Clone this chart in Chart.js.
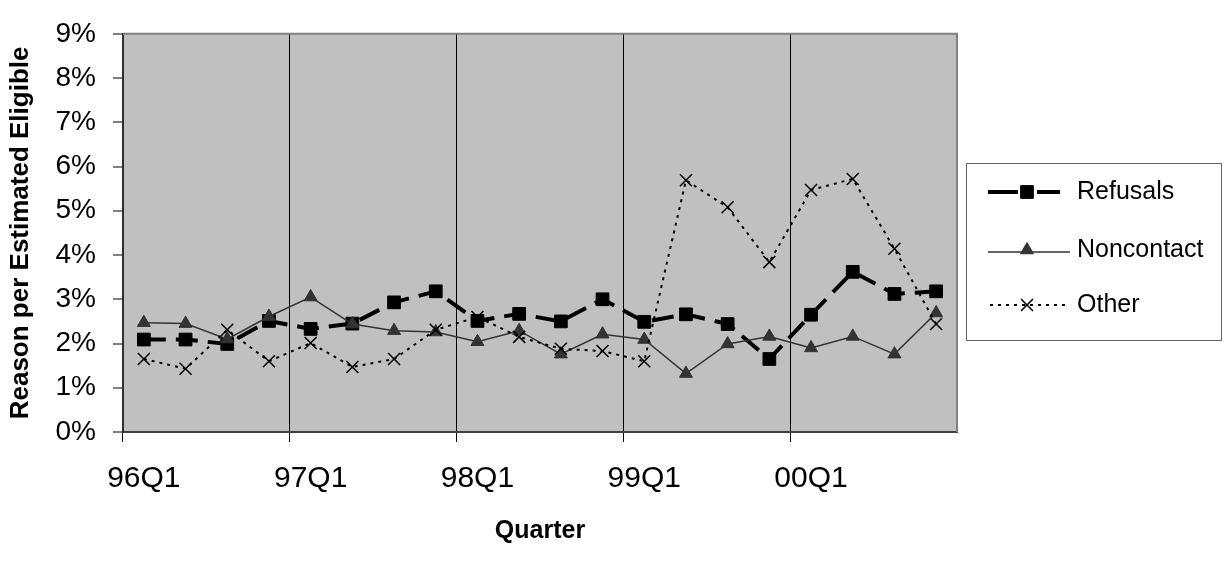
<!DOCTYPE html>
<html><head><meta charset="utf-8">
<script src="https://cdn.jsdelivr.net/npm/chart.js@4.4.0/dist/chart.umd.min.js"></script>
<style>html,body{margin:0;padding:0;background:#fff;}#wrap{width:1225px;height:565px;}</style>
</head><body><div id="wrap"><canvas id="c" width="1225" height="565"></canvas></div>
<script>
const quarters = ['96Q1','96Q2','96Q3','96Q4','97Q1','97Q2','97Q3','97Q4','98Q1','98Q2','98Q3','98Q4','99Q1','99Q2','99Q3','99Q4','00Q1','00Q2','00Q3','00Q4'];
const tickLabels = ['96Q1','97Q1','98Q1','99Q1','00Q1'];
const seriesNames = ['Refusals','Noncontact','Other'];
const refusals   = [2.09,2.09,1.99,2.51,2.33,2.45,2.93,3.18,2.51,2.67,2.50,3.00,2.49,2.66,2.44,1.65,2.65,3.62,3.12,3.18];
const noncontact = [2.47,2.45,2.10,2.61,3.05,2.44,2.29,2.26,2.04,2.29,1.76,2.21,2.09,1.32,1.99,2.16,1.90,2.16,1.76,2.69];
const other      = [1.65,1.43,2.31,1.60,2.01,1.47,1.65,2.31,2.60,2.15,1.88,1.83,1.60,5.69,5.08,3.84,5.47,5.72,4.14,2.44];
const xTitle = 'Quarter';
const yTitle = 'Reason per Estimated Eligible';

const FONT = "'Liberation Sans', Arial, sans-serif";

const bgPlugin = {
  id: 'bg',
  beforeDraw(chart) {
    const {ctx, chartArea: a} = chart;
    ctx.save();
    ctx.fillStyle = '#C0C0C0';
    ctx.fillRect(a.left, a.top, a.right - a.left, a.bottom - a.top);
    ctx.restore();
  },
  afterDraw(chart) {
    const {ctx, chartArea: a} = chart;
    ctx.save();
    ctx.strokeStyle = '#808080';
    ctx.lineWidth = 2;
    ctx.beginPath();
    ctx.moveTo(a.left, a.top);
    ctx.lineTo(a.right, a.top);
    ctx.lineTo(a.right, a.bottom);
    ctx.stroke();
    // legend
    const bx = 966.5, by = 163.5, bw = 255, bh = 177;
    ctx.strokeStyle = '#666666';
    ctx.lineWidth = 1;
    ctx.strokeRect(bx, by, bw, bh);
    const rows = [192, 250, 305];
    const ds = chart.data.datasets;
    ctx.font = '25px ' + FONT;
    ctx.textBaseline = 'middle';
    ctx.textAlign = 'left';
    ds.forEach((d, i) => {
      const y = rows[i];
      ctx.strokeStyle = d.borderColor;
      ctx.lineWidth = d.borderWidth;
      ctx.setLineDash(i === 2 ? [3, 5] : []);
      ctx.beginPath();
      if (i === 0) {
        ctx.moveTo(988, y); ctx.lineTo(1018, y);
        ctx.moveTo(1037, y); ctx.lineTo(1060, y);
      } else if (i === 1) {
        ctx.moveTo(988, y + 2); ctx.lineTo(1070, y + 2);
      } else {
        ctx.moveTo(990, y); ctx.lineTo(1067, y);
      }
      ctx.stroke();
      ctx.setLineDash([]);
      ctx.fillStyle = d.pointBackgroundColor;
      ctx.strokeStyle = d.pointBorderColor;
      ctx.lineWidth = d.pointBorderWidth;
      Chart.helpers.drawPoint(ctx, {pointStyle: d.pointStyle, radius: d.pointRadius, rotation: 0, borderWidth: d.pointBorderWidth}, 1027, y);
      ctx.fillStyle = '#000';
      ctx.fillText(d.label, 1077, y);
    });
    ctx.restore();
  }
};

new Chart(document.getElementById('c'), {
  type: 'line',
  data: {
    labels: quarters,
    datasets: [
      {label: seriesNames[0], data: refusals, order: 3, borderColor: '#000000', borderWidth: 4, borderDash: [22, 10],
       pointStyle: 'rect', pointRadius: 9, pointBackgroundColor: '#000000', pointBorderColor: '#000000', pointBorderWidth: 1, tension: 0},
      {label: seriesNames[1], data: noncontact, order: 2, borderColor: '#333333', borderWidth: 1.5,
       pointStyle: 'triangle', pointRadius: 7.5, pointBackgroundColor: '#333333', pointBorderColor: '#333333', pointBorderWidth: 1, tension: 0},
      {label: seriesNames[2], data: other, order: 1, borderColor: '#000000', borderWidth: 2, borderDash: [3, 5],
       pointStyle: 'crossRot', pointRadius: 8.5, pointBackgroundColor: '#000000', pointBorderColor: '#000000', pointBorderWidth: 1.5, tension: 0}
    ]
  },
  options: {
    responsive: false,
    animation: false,
    devicePixelRatio: 1,
    layout: {padding: {top: 21, right: 268, left: 0, bottom: 0}},
    plugins: {legend: {display: false}, tooltip: {enabled: false}},
    scales: {
      x: {
        type: 'category',
        offset: true,
        afterFit(s) { s.height = 133; },
        grid: {
          offset: true,
          drawOnChartArea: true,
          drawTicks: true,
          tickLength: 10,
          lineWidth: 1,
          color: (c) => (c.index % 4 === 0 ? '#000000' : 'rgba(0,0,0,0)')
        },
        border: {display: true, color: '#404040', width: 2},
        ticks: {
          autoSkip: false,
          maxRotation: 0,
          minRotation: 0,
          padding: 19,
          color: '#000',
          font: {family: FONT, size: 30},
          callback: (v, i) => (tickLabels.includes(quarters[i]) ? quarters[i] : '')
        },
        title: {display: true, text: xTitle, color: '#000', font: {family: FONT, size: 25, weight: 'bold'}, padding: {top: 0, bottom: 19}}
      },
      y: {
        min: 0, max: 9,
        afterFit(s) { s.width = 123; },
        grid: {drawOnChartArea: false, drawTicks: true, tickLength: 10, color: '#808080', lineWidth: 2},
        border: {display: true, color: '#303030', width: 2},
        ticks: {stepSize: 1, padding: 17, color: '#000', font: {family: FONT, size: 28}, callback: (v) => v + '%'},
        title: {display: true, text: yTitle, color: '#000', font: {family: FONT, size: 26, weight: 'bold'}, padding: {top: 5, bottom: 0}}
      }
    }
  },
  plugins: [bgPlugin]
});
</script></body></html>
